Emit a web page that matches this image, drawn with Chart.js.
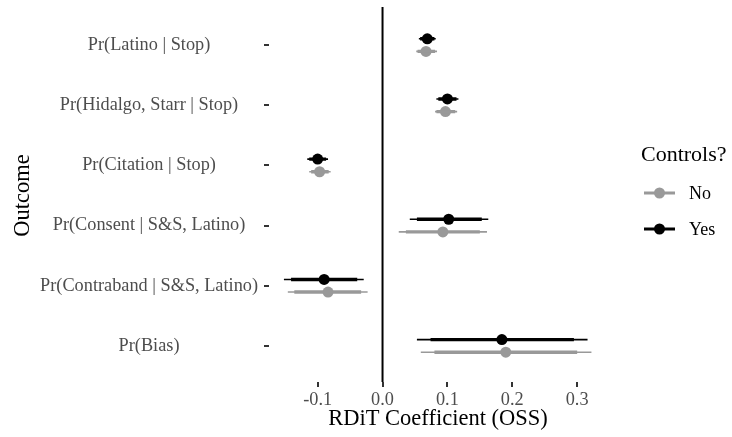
<!DOCTYPE html>
<html>
<head>
<meta charset="utf-8">
<title>RDiT coefficients</title>
<script src="https://cdn.jsdelivr.net/npm/chart.js@4/dist/chart.umd.min.js"></script>
<style>
  html, body { margin: 0; padding: 0; background: #ffffff; }
  #wrap { width: 732px; height: 437px; position: relative; }
</style>
</head>
<body>
<div id="wrap"><canvas id="chart"></canvas></div>
<script>
// Outcomes, top to bottom
const OUTCOMES = [
  'Pr(Latino | Stop)',
  'Pr(Hidalgo, Starr | Stop)',
  'Pr(Citation | Stop)',
  'Pr(Consent | S&S, Latino)',
  'Pr(Contraband | S&S, Latino)',
  'Pr(Bias)'
];

const X_TICKS = [-0.1, 0.0, 0.1, 0.2, 0.3];

// Estimates with controls ("Yes")
const YES_EST      = [0.069, 0.100, -0.100, 0.102, -0.090, 0.184];
const YES_WIDE_LO  = [0.056, 0.083, -0.116, 0.042, -0.152, 0.053];
const YES_WIDE_HI  = [0.082, 0.117, -0.084, 0.163, -0.029, 0.316];
const YES_NARROW_LO = [0.058, 0.086, -0.113, 0.053, -0.141, 0.074];
const YES_NARROW_HI = [0.080, 0.114, -0.087, 0.153, -0.039, 0.295];

// Estimates without controls ("No")
const NO_EST       = [0.067, 0.097, -0.097, 0.093, -0.084, 0.190];
const NO_WIDE_LO   = [0.052, 0.081, -0.113, 0.025, -0.146, 0.059];
const NO_WIDE_HI   = [0.084, 0.115, -0.080, 0.161, -0.023, 0.322];
const NO_NARROW_LO = [0.054, 0.083, -0.110, 0.036, -0.136, 0.080];
const NO_NARROW_HI = [0.081, 0.112, -0.083, 0.150, -0.033, 0.300];

const SERIES_NAMES = ['No', 'Yes'];
const LEGEND_TITLE = 'Controls?';

const GREY = '#999999';
const BLACK = '#000000';
const DODGE = 0.105;     // vertical offset between the two series within a row
const SERIF = "'Liberation Serif', 'DejaVu Serif', serif";

// Interval segments, separated by gaps so each row is its own line piece
function segments(lo, hi, offset) {
  const pts = [];
  lo.forEach((l, i) => {
    const y = i + 1 + offset;
    pts.push({ x: l, y: y }, { x: hi[i], y: y }, { x: NaN, y: NaN });
  });
  return pts;
}
function points(est, offset) {
  return est.map((v, i) => ({ x: v, y: i + 1 + offset }));
}

function intervalSet(data, color, width) {
  return {
    data: data, borderColor: color, backgroundColor: color, borderWidth: width,
    pointRadius: 0, showLine: true, spanGaps: false, tension: 0, borderCapStyle: 'butt'
  };
}
function pointSet(data, color) {
  return {
    data: data, borderColor: color, backgroundColor: color, showLine: false,
    pointRadius: 5.5, pointBorderWidth: 0, pointHoverRadius: 5.5
  };
}

// Vertical reference line at zero, spanning the panel
const zeroLine = {
  id: 'zeroLine',
  beforeDatasetsDraw(chart) {
    const { ctx, chartArea, scales } = chart;
    const x = scales.x.getPixelForValue(0);
    ctx.save();
    ctx.strokeStyle = '#000000';
    ctx.lineWidth = 2;
    ctx.beginPath();
    ctx.moveTo(x, chartArea.top - 2);
    ctx.lineTo(x, chartArea.bottom);
    ctx.stroke();
    ctx.restore();
  }
};

// Legend at the right: title, then one row per series with a line-and-dot key
const sideLegend = {
  id: 'sideLegend',
  afterDraw(chart) {
    const { ctx, chartArea } = chart;
    const left = chartArea.right + 34;
    ctx.save();
    ctx.textBaseline = 'middle';
    ctx.textAlign = 'left';
    ctx.fillStyle = '#000000';
    ctx.font = '22px ' + SERIF;
    ctx.fillText(LEGEND_TITLE, left, 155);
    const colors = [GREY, BLACK];
    const rowsY = [193, 229];
    SERIES_NAMES.forEach((name, i) => {
      const y = rowsY[i];
      ctx.strokeStyle = colors[i];
      ctx.fillStyle = colors[i];
      ctx.lineWidth = 3;
      ctx.beginPath();
      ctx.moveTo(left + 3, y);
      ctx.lineTo(left + 34, y);
      ctx.stroke();
      ctx.beginPath();
      ctx.arc(left + 18.5, y, 5.5, 0, Math.PI * 2);
      ctx.fill();
      ctx.fillStyle = '#000000';
      ctx.font = '18px ' + SERIF;
      ctx.fillText(name, left + 48, y + 1);
    });
    ctx.restore();
  }
};

const chart = new Chart(document.getElementById('chart'), {
  type: 'line',
  data: {
    datasets: [
      intervalSet(segments(NO_WIDE_LO, NO_WIDE_HI, DODGE), GREY, 1.6),
      intervalSet(segments(NO_NARROW_LO, NO_NARROW_HI, DODGE), GREY, 3.4),
      pointSet(points(NO_EST, DODGE), GREY),
      intervalSet(segments(YES_WIDE_LO, YES_WIDE_HI, -DODGE), BLACK, 1.6),
      intervalSet(segments(YES_NARROW_LO, YES_NARROW_HI, -DODGE), BLACK, 3.4),
      pointSet(points(YES_EST, -DODGE), BLACK)
    ]
  },
  options: {
    responsive: true,
    maintainAspectRatio: false,
    animation: false,
    devicePixelRatio: 1,
    events: [],
    layout: { padding: { left: 0, right: 125, top: 9, bottom: 0 } },
    plugins: { legend: { display: false }, tooltip: { enabled: false } },
    scales: {
      x: {
        type: 'linear',
        min: -0.175,
        max: 0.346,
        afterBuildTicks(scale) { scale.ticks = X_TICKS.map(v => ({ value: v })); },
        afterFit(scale) { scale.height = 55; scale.paddingLeft = 0; scale.paddingRight = 0; },
        border: { display: false },
        grid: { drawOnChartArea: false, drawTicks: true, tickLength: 5, tickColor: '#333333', lineWidth: 2 },
        ticks: {
          padding: 2,
          color: '#4d4d4d',
          font: { family: SERIF, size: 18.3 },
          callback: v => v.toFixed(1)
        },
        title: {
          display: true,
          text: 'RDiT Coefficient (OSS)',
          color: '#000000',
          font: { family: SERIF, size: 22.5 },
          padding: { top: 0, bottom: 4 }
        }
      },
      y: {
        type: 'linear',
        reverse: true,
        min: 0.4,
        max: OUTCOMES.length + 0.6,
        afterBuildTicks(scale) { scale.ticks = OUTCOMES.map((_, i) => ({ value: i + 1 })); },
        afterFit(scale) { scale.width = 269; scale.paddingTop = 0; scale.paddingBottom = 0; },
        border: { display: false },
        grid: { drawOnChartArea: false, drawTicks: true, tickLength: 5, tickColor: '#333333', lineWidth: 2 },
        ticks: {
          padding: 6,
          crossAlign: 'center',
          color: '#4d4d4d',
          font: { family: SERIF, size: 18.3 },
          callback: v => OUTCOMES[Math.round(v) - 1]
        },
        title: {
          display: true,
          text: 'Outcome',
          color: '#000000',
          font: { family: SERIF, size: 22.5 },
          padding: { top: 10, bottom: 0 }
        }
      }
    }
  },
  plugins: [zeroLine, sideLegend]
});
</script>
</body>
</html>
